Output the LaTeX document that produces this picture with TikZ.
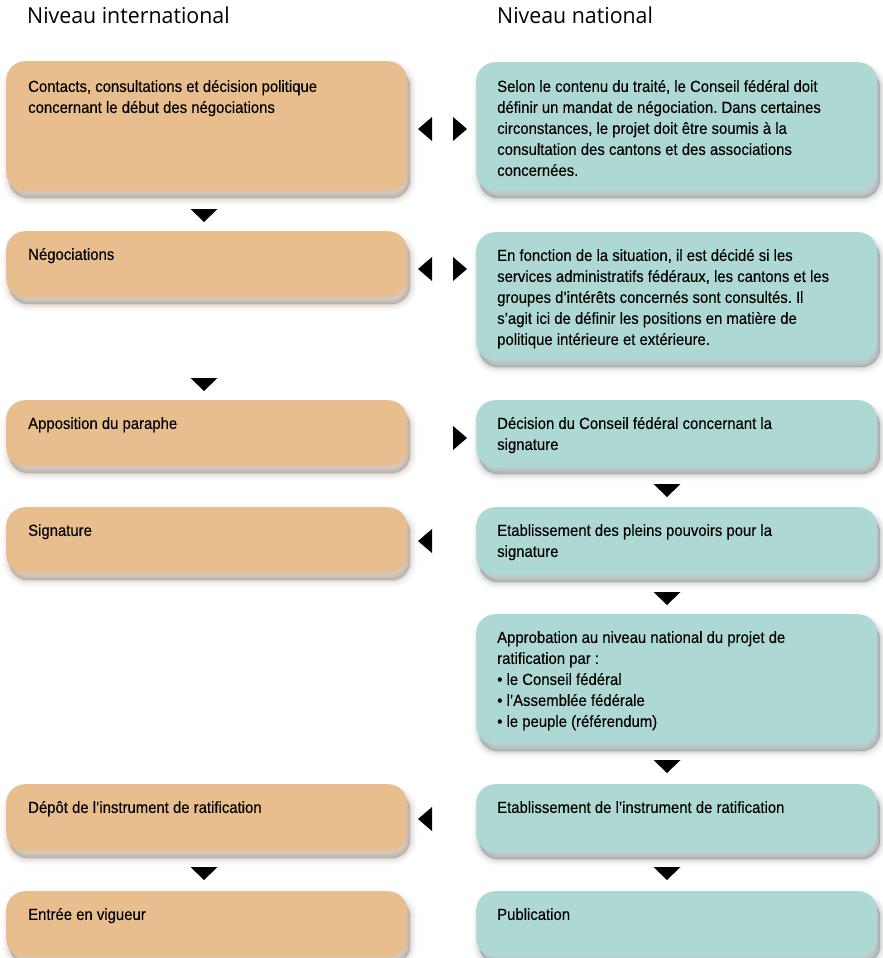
\documentclass[tikz,border=0pt]{standalone}
\usepackage{fontspec}
\setmainfont{Liberation Sans}[FakeStretch=0.925,FakeBold=0.25]
\newfontfamily\headfont{Open Sans}[FakeStretch=0.97]
\definecolor{tanbox}{RGB}{232,190,143}
\definecolor{tealbox}{RGB}{173,216,212}
\definecolor{tanshadow}{RGB}{80,55,30}
\definecolor{tealshadow}{RGB}{35,50,50}
\newcommand\triL[2]{\fill (#1,#2) -- ++(14,-12) -- ++(0,24) -- cycle;}
\newcommand\triR[2]{\fill (#1,#2) -- ++(-14,-12) -- ++(0,24) -- cycle;}
\newcommand\triD[2]{\fill (#1,#2) -- ++(-13.5,-13) -- ++(27,0) -- cycle;}
\tikzset{
  shadowed/.style={
    preaction={draw=#1, draw opacity=0.025, line width=14pt, transform canvas={xshift=3pt,yshift=-7pt}},
    preaction={draw=#1, draw opacity=0.04, line width=10pt, transform canvas={xshift=3pt,yshift=-7pt}},
    preaction={draw=#1, draw opacity=0.06, line width=6pt, transform canvas={xshift=3pt,yshift=-7pt}},
    preaction={draw=#1, draw opacity=0.09, line width=2.5pt, fill=#1, fill opacity=0.25, transform canvas={xshift=3pt,yshift=-7pt}}
  },
  box/.style n args={3}{rectangle, rounded corners=19pt, minimum width=401pt, minimum height=#2pt,
    anchor=north west, inner sep=0pt, fill=#1, shadowed=#3},
  lbox/.style={box={tanbox}{#1}{tanshadow}},
  rbox/.style={box={tealbox}{#1}{tealshadow}},
  txt/.style={anchor=north west, inner sep=0pt, align=left, font=\fontsize{16.1}{21}\selectfont},
  head/.style={anchor=base west, inner sep=0pt, font=\headfont\fontsize{22}{26}\selectfont}
}
\begin{document}
\frenchspacing
\begin{tikzpicture}[x=1pt,y=-1pt]
\useasboundingbox (0,0) rectangle (883,958);
% headers
\node[head] (H1) at (27,24) {Niveau international};
\node[head] (H2) at (497,24) {Niveau national};
% left boxes
\node[lbox=130] (L1) at (6,61) {};
\node[lbox=66]  (L2) at (6,231) {};
\node[lbox=66]  (L3) at (6,400) {};
\node[lbox=66]  (L4) at (6,507) {};
\node[lbox=67]  (L6) at (6,784) {};
\node[lbox=66]  (L7) at (6,891) {};
% right boxes
\node[rbox=129] (R1) at (476,62) {};
\node[rbox=128] (R2) at (476,232) {};
\node[rbox=67]  (R3) at (476,400) {};
\node[rbox=68]  (R4) at (476,507) {};
\node[rbox=130] (R5) at (476,614) {};
\node[rbox=68]  (R6) at (476,784) {};
\node[rbox=66]  (R7) at (476,891) {};
% texts
\node[txt] (L1t) at ([xshift=22pt,yshift=-16pt]L1.north west) {\strut Contacts, consultations et décision politique\\concernant le début des négociations};
\node[txt] (L2t) at ([xshift=22pt,yshift=-14pt]L2.north west) {\strut Négociations};
\node[txt] (L3t) at ([xshift=22pt,yshift=-14pt]L3.north west) {\strut Apposition du paraphe};
\node[txt] (L4t) at ([xshift=22pt,yshift=-14pt]L4.north west) {\strut Signature};
\node[txt] (L6t) at ([xshift=22pt,yshift=-14pt]L6.north west) {\strut Dépôt de l’instrument de ratification};
\node[txt] (L7t) at ([xshift=22pt,yshift=-14pt]L7.north west) {\strut Entrée en vigueur};
\node[txt] (R1t) at ([xshift=21pt,yshift=-15pt]R1.north west) {\strut Selon le contenu du traité, le Conseil fédéral doit\\définir un mandat de négociation. Dans certaines\\circonstances, le projet doit être soumis à la\\consultation des cantons et des associations\\concernées.};
\node[txt] (R2t) at ([xshift=21pt,yshift=-14pt]R2.north west) {\strut En fonction de la situation, il est décidé si les\\services administratifs fédéraux, les cantons et les\\groupes d’intérêts concernés sont consultés. Il\\s’agit ici de définir les positions en matière de\\politique intérieure et extérieure.};
\node[txt] (R3t) at ([xshift=21pt,yshift=-14pt]R3.north west) {\strut Décision du Conseil fédéral concernant la\\signature};
\node[txt] (R4t) at ([xshift=21pt,yshift=-14pt]R4.north west) {\strut Etablissement des pleins pouvoirs pour la\\signature};
\node[txt] (R5t) at ([xshift=21pt,yshift=-14pt]R5.north west) {\strut Approbation au niveau national du projet de\\ratification par :\\• le Conseil fédéral\\• l’Assemblée fédérale\\• le peuple (référendum)};
\node[txt] (R6t) at ([xshift=21pt,yshift=-14pt]R6.north west) {\strut Etablissement de l’instrument de ratification};
\node[txt] (R7t) at ([xshift=21pt,yshift=-14pt]R7.north west) {\strut Publication};
% horizontal markers
\triL{418}{129} \triR{467}{129}
\triL{418}{269} \triR{467}{269}
\triR{467}{438}
\triL{418}{541}
\triL{418}{819}
% vertical markers
\triD{204}{222} \triD{204}{391} \triD{204}{880}
\triD{667}{497} \triD{667}{605} \triD{667}{773} \triD{667}{880}
\end{tikzpicture}
\end{document}
